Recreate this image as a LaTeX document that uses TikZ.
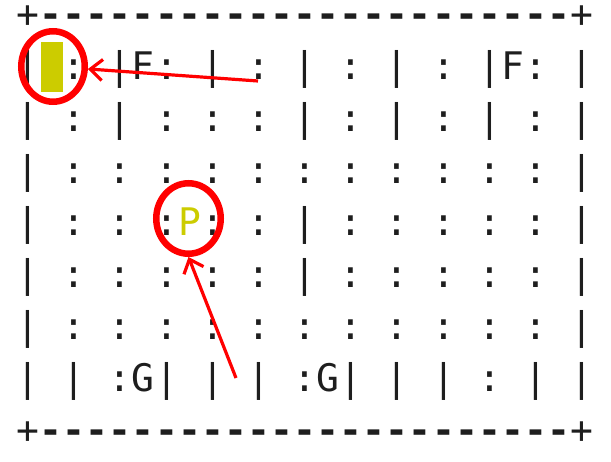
\documentclass[tikz,border=0pt]{standalone}
\usepackage{fontspec}
\setmonofont{DejaVu Sans Mono}
\usetikzlibrary{shapes.geometric,arrows.meta}
\definecolor{ink}{RGB}{30,30,30}
\definecolor{taxi}{RGB}{204,204,0}
\definecolor{mark}{RGB}{255,0,0}
\begin{document}
\begin{tikzpicture}[x=1pt,y=-1pt,
  ch/.style={inner sep=0pt, anchor=base, font=\fontsize{38}{38}\selectfont\ttfamily, text=ink},
  dashch/.style={ch, font=\fontsize{38}{38}\selectfont\ttfamily\bfseries},
  ring/.style={ellipse, draw=mark, line width=6.5pt, inner sep=0pt},
  pointer/.style={draw=mark, line width=3.2pt, -{Straight Barb[length=12pt,width=21pt]}},
  cab/.style={fill=taxi, inner sep=0pt, minimum width=22pt, minimum height=50pt}]
\useasboundingbox (0,0) rectangle (611,462);
\def\cw{23.08}
% borders
\foreach \r/\yy in {t/28,b/444}{
  \node[ch] (\r0) at (28,\yy) {+};
  \node[ch] (\r24) at ({28+24*\cw},\yy) {+};
  \foreach \k in {1,...,23} \node[dashch] (\r\k) at ({28+\k*\cw},\yy) {-};
}
% taxi cell
\node[cab] (taxi) at (51.5,66.7) {};
% row 1
\foreach \k/\s in {0/|,2/:,4/|,5/F,6/:,8/|,10/:,12/|,14/:,16/|,18/:,20/|,21/F,22/:,24/|}
  \node[ch] (a\k) at ({28+\k*\cw},80) {\s};
% row 2
\foreach \k/\s in {0/|,2/:,4/|,6/:,8/:,10/:,12/|,14/:,16/|,18/:,20/|,22/:,24/|}
  \node[ch] (b\k) at ({28+\k*\cw},132) {\s};
% row 3
\node[ch] (c0) at (28,184) {|};
\foreach \k in {2,4,...,22} \node[ch] (c\k) at ({28+\k*\cw},184) {:};
\node[ch] (c24) at ({28+24*\cw},184) {|};
% row 4
\foreach \k/\s in {0/|,2/:,4/:,6/:,8/:,10/:,12/|,14/:,16/:,18/:,20/:,22/:,24/|}
  \node[ch] (d\k) at ({28+\k*\cw},236) {\s};
\node[ch, text=taxi] (d7) at ({28+7*\cw},236) {P};
% row 5
\foreach \k/\s in {0/|,2/:,4/:,6/:,8/:,10/:,12/|,14/:,16/:,18/:,20/:,22/:,24/|}
  \node[ch] (e\k) at ({28+\k*\cw},288) {\s};
% row 6
\node[ch] (f0) at (28,340) {|};
\foreach \k in {2,4,...,22} \node[ch] (f\k) at ({28+\k*\cw},340) {:};
\node[ch] (f24) at ({28+24*\cw},340) {|};
% row 7
\foreach \k/\s in {0/|,2/|,4/:,5/G,6/|,8/|,10/|,12/:,13/G,14/|,16/|,18/|,20/:,22/|,24/|}
  \node[ch] (g\k) at ({28+\k*\cw},392) {\s};
% marks
\node[ring, minimum width=63.5pt, minimum height=70.5pt] (o1) at (53,66.5) {};
\node[ring, minimum width=64.5pt, minimum height=70.5pt] (o2) at (188.5,218.5) {};
\coordinate (s1) at (258,81);
\coordinate (s2) at (236,378);
\draw[pointer] (s1) -- (o1);
\draw[pointer] (s2) -- (o2.south);
\end{tikzpicture}
\end{document}
